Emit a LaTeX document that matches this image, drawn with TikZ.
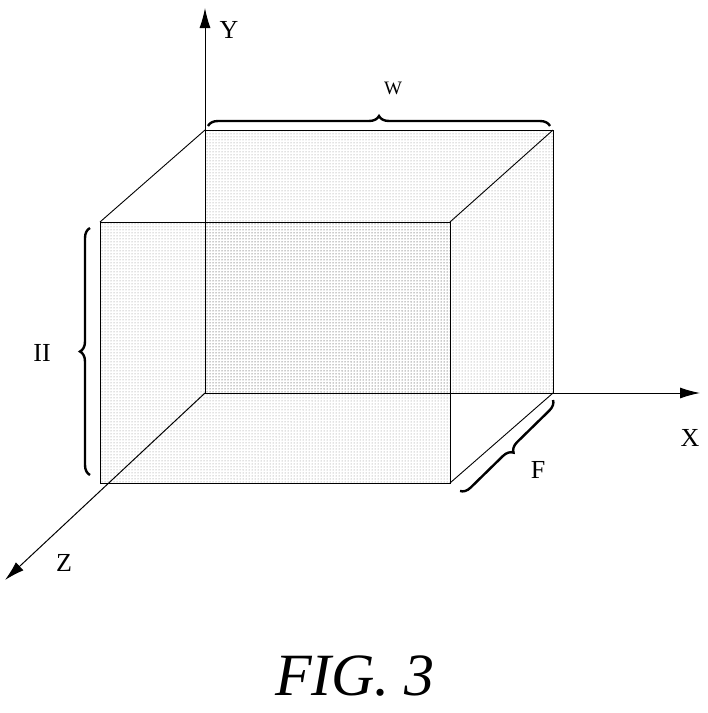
\documentclass[tikz,border=0pt]{standalone}
\usepackage{fontspec}
\setmainfont{Liberation Serif}
\usetikzlibrary{patterns,decorations.pathreplacing,arrows.meta}
\tikzset{
  edge/.style={black, line width=0.9pt},
  axis/.style={black, line width=1pt, -{Latex[length=20pt,width=11pt]}},
  brace/.style={decorate, decoration={brace, amplitude=10pt}, line width=2.4pt},
  face/.style={pattern=dots, pattern color=gray},
  lbl/.style={font=\fontsize{26}{26}\selectfont}
}
\begin{document}
\begin{tikzpicture}[x=1pt,y=-1pt]
    \useasboundingbox (0,0) rectangle (708,713);

    % Facce ombreggiate
    \fill[face] (205,130) rectangle (553,393);
    \fill[face] (100,222) rectangle (450,483);

    % Vertici
    \coordinate (b1) at (205,130);
    \coordinate (b2) at (553,130);
    \coordinate (b3) at (553,393);
    \coordinate (b4) at (205,393);
    \coordinate (f1) at (100,222);
    \coordinate (f2) at (450,222);
    \coordinate (f3) at (450,483);
    \coordinate (f4) at (100,483);

    % Spigoli
    \draw[edge] (b1) -- (b2) -- (b3);
    \draw[edge] (f1) -- (f2) -- (f3) -- (f4) -- cycle;
    \draw[edge] (f1) -- (b1);
    \draw[edge] (f2) -- (b2);
    \draw[edge] (f3) -- (b3);

    % Assi
    \coordinate (yend) at (205,8);
    \coordinate (xend) at (700,393);
    \coordinate (zend) at (5,580);
    \draw[axis] (b4) -- (yend);
    \draw[axis] (b4) -- (xend);
    \draw[axis] (b4) -- (zend);
    \node[lbl] (ly) at (229,30) {Y};
    \node[lbl] (lx) at (690,438) {X};
    \node[lbl] (lz) at (64,563) {Z};

    % Graffe
    \draw[brace] (208,126) -- (550,126);
    \node[lbl] (lw) at (393,88) {\fontsize{19}{19}\selectfont W};
    \draw[brace] (90,475) -- (90,228);
    \node[lbl] (lh) at (42,353) {II};
    \draw[brace] (553,400) -- (460,491);
    \node[lbl] (lf) at (538,470) {F};

    % Didascalia
    \node (cap) at (355,676) {\fontsize{60}{60}\selectfont\itshape FIG. 3};
\end{tikzpicture}
\end{document}
